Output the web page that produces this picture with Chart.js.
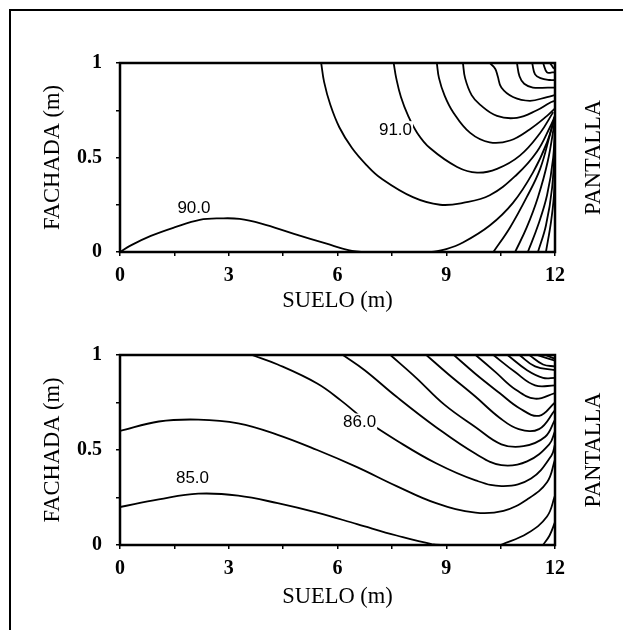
<!DOCTYPE html>
<html>
<head>
<meta charset="utf-8">
<script src="https://cdn.jsdelivr.net/npm/chart.js@4.4.1/dist/chart.umd.min.js"></script>
<style>
  body { margin: 0; background: #fff; }
  #page { position: relative; width: 623px; height: 630px; overflow: hidden; }
  #frame { position: absolute; left: 9px; top: 9px; width: 700px; height: 700px;
           border-left: 2px solid #000; border-top: 2px solid #000; }
  canvas { position: absolute; left: 0; }
</style>
</head>
<body>
<div id="page">
  <div id="frame"></div>
  <canvas id="topChart" width="623" height="315" style="top:0"></canvas>
  <canvas id="bottomChart" width="623" height="315" style="top:315px"></canvas>
</div>
<script>
// axis labels
const xTitle = 'SUELO (m)';
const yTitle = 'FACHADA (m)';
const sideTitle = 'PANTALLA';
const xLabelTicks = [0, 3, 6, 9, 12];
const yLabelTicks = [0, 0.5, 1];

// top plot contours, [suelo, fachada]
const top90a = [[0,0],[0.3,0.035],[0.85,0.085],[1.5,0.13],[2.2,0.17],[2.8,0.178],[3.3,0.175],[3.9,0.15],[4.8,0.096],[5.7,0.044],[6.3,0.01],[6.65,0]];
const top90b = [[8.6,0],[9.0,0.015],[9.46,0.05],[10.2,0.14],[10.84,0.26],[11.39,0.42],[11.78,0.58],[12,0.72]];
const topA = [[5.55,1],[5.63,0.9],[5.8,0.78],[6.05,0.66],[6.4,0.55],[6.8,0.46],[7.2,0.39],[8.08,0.29],[8.83,0.25],[9.46,0.26],[10.2,0.3],[10.95,0.41],[11.5,0.53],[11.86,0.66],[12,0.72]];
const topB = [[7.55,1],[7.62,0.92],[7.75,0.82],[7.95,0.72],[8.2,0.63],[8.55,0.55],[9.3,0.45],[9.85,0.42],[10.4,0.44],[11.03,0.51],[11.59,0.63],[11.95,0.74]];
const topC = [[8.74,1],[8.8,0.92],[8.95,0.83],[9.19,0.74],[9.66,0.63],[10.2,0.58],[10.76,0.59],[11.31,0.65],[11.78,0.72],[12,0.76]];
const topD = [[9.46,1],[9.52,0.92],[9.7,0.83],[9.93,0.78],[10.4,0.72],[10.95,0.71],[11.5,0.75],[11.86,0.79],[12,0.8]];
const topE = [[10.2,1],[10.35,0.97],[10.42,0.93],[10.52,0.87],[10.84,0.82],[11.31,0.8],[11.78,0.82],[12,0.83]];
const topF = [[10.95,1],[11.02,0.93],[11.15,0.89],[11.39,0.87],[11.8,0.87],[12,0.87]];
const topG = [[11.37,1],[11.45,0.94],[11.6,0.92],[11.86,0.91],[12,0.91]];
const topH = [[11.67,1],[11.78,0.95],[11.92,0.95],[12,0.95]];
const topI = [[11.86,1],[11.97,0.97]];
const topJ = [[10.3,0],[10.76,0.13],[11.22,0.29],[11.59,0.44],[11.86,0.62],[12,0.72]];
const topK = [[10.9,0],[11.22,0.13],[11.53,0.29],[11.8,0.48],[12,0.7]];
const topL = [[11.25,0],[11.53,0.14],[11.78,0.3],[11.95,0.5],[12,0.7]];
const topM = [[11.53,0],[11.75,0.14],[11.92,0.34],[12,0.6]];
const topN = [[11.75,0],[11.89,0.16],[11.97,0.3],[12,0.5]];
const topLabelText = ['90.0', '91.0'];
const topLabelX = [2.04, 7.6];
const topLabelY = [0.235, 0.65];

// bottom plot contours
const botC1 = [[0,0.2],[1.07,0.24],[2.16,0.27],[3.26,0.26],[4.35,0.22],[5.44,0.17],[6.54,0.11],[7.63,0.05],[8.6,0.005],[9.0,0]];
const botC1b = [[10.5,0],[11.23,0.06],[11.78,0.15],[12,0.26]];
const botC1c = [[11.67,0],[11.85,0.05],[12,0.12]];
const botC2 = [[0,0.6],[1.07,0.65],[2.16,0.66],[3.26,0.64],[4.35,0.58],[5.44,0.5],[6.54,0.41],[7.63,0.31],[8.72,0.22],[9.81,0.17],[10.58,0.18],[11.23,0.24],[11.78,0.33],[12,0.45]];
const botC3 = [[3.64,1],[4.35,0.95],[5.44,0.85],[6.1,0.76],[6.75,0.66],[7.63,0.55],[8.72,0.43],[9.81,0.34],[10.58,0.31],[11.34,0.35],[11.9,0.47],[12,0.53]];
const botC4 = [[6.15,1],[6.75,0.92],[7.63,0.78],[8.72,0.62],[9.81,0.48],[10.52,0.42],[11.23,0.44],[11.84,0.53],[12,0.6]];
const botC5 = [[7.46,1],[8.17,0.88],[8.94,0.74],[9.81,0.62],[10.52,0.53],[11.13,0.52],[11.73,0.57],[12,0.66]];
const botC6 = [[8.45,1],[9.05,0.9],[9.81,0.78],[10.47,0.67],[11.0,0.61],[11.56,0.61],[12,0.71]];
const botC7 = [[9.21,1],[9.81,0.9],[10.47,0.8],[11.02,0.72],[11.56,0.68],[12,0.75]];
const botC8 = [[9.81,1],[10.36,0.91],[10.9,0.82],[11.45,0.77],[12,0.8]];
const botC9 = [[10.3,1],[10.9,0.91],[11.45,0.84],[12,0.84]];
const botC10 = [[10.69,1],[11.23,0.92],[11.67,0.88],[12,0.88]];
const botC11 = [[11.02,1],[11.45,0.94],[12,0.92]];
const botC12 = [[11.29,1],[11.67,0.95],[12,0.94]];
const botC13 = [[11.5,1],[12,0.97]];
const botC14 = [[11.73,1],[12,0.98]];
const botLabelText = ['85.0', '86.0'];
const botLabelX = [2.0, 6.61];
const botLabelY = [0.355, 0.65];

const serif = '"Liberation Serif", "Times New Roman", serif';

// plot frame, contour labels and the right-hand title
const extrasPlugin = {
  id: 'extras',
  afterDatasetsDraw(chart, args, opts) {
    const { ctx, chartArea: a, scales } = chart;
    ctx.save();
    ctx.strokeStyle = '#000';
    ctx.lineWidth = 2.5;
    ctx.strokeRect(a.left, a.top, a.right - a.left, a.bottom - a.top);

    ctx.font = '17px "Liberation Sans", Arial, sans-serif';
    ctx.textAlign = 'center';
    ctx.textBaseline = 'middle';
    opts.text.forEach((t, i) => {
      const px = scales.x.getPixelForValue(opts.xs[i]);
      const py = scales.y.getPixelForValue(opts.ys[i]);
      const w = ctx.measureText(t).width;
      ctx.fillStyle = '#fff';
      ctx.fillRect(px - w / 2 - 1, py - 8, w + 2, 16);
      ctx.fillStyle = '#000';
      ctx.fillText(t, px, py + 1);
    });

    ctx.translate(594, (a.top + a.bottom) / 2);
    ctx.rotate(-Math.PI / 2);
    ctx.font = '22.5px ' + serif;
    ctx.fillText(sideTitle, 0, 0);
    ctx.restore();
  }
};

function makeChart(id, contours, labels, pad, xHeight, titlePadBottom) {
  return new Chart(document.getElementById(id), {
    type: 'line',
    data: {
      datasets: contours.map(pts => ({
        data: pts.map(p => ({ x: p[0], y: p[1] })),
        borderColor: '#000',
        borderWidth: 1.8,
        pointRadius: 0,
        tension: 0.4,
        fill: false
      }))
    },
    options: {
      responsive: false,
      animation: false,
      devicePixelRatio: 1,
      layout: { padding: pad },
      plugins: {
        legend: { display: false },
        tooltip: { enabled: false },
        extras: labels
      },
      scales: {
        x: {
          type: 'linear',
          min: 0,
          max: 12,
          afterFit: s => { s.height = xHeight; },
          border: { display: false },
          grid: { drawOnChartArea: false, tickLength: 4, color: '#000', lineWidth: 1.5 },
          ticks: {
            stepSize: 1.5,
            autoSkip: false,
            maxRotation: 0,
            padding: 8,
            color: '#000',
            font: { family: serif, size: 20, weight: 'bold' },
            callback: v => xLabelTicks.includes(v) ? String(v) : ''
          },
          title: {
            display: true,
            text: xTitle,
            color: '#000',
            font: { family: serif, size: 22.5 },
            padding: { top: 0, bottom: titlePadBottom }
          }
        },
        y: {
          type: 'linear',
          min: 0,
          max: 1,
          afterFit: s => { s.width = 120; },
          border: { display: false },
          grid: { drawOnChartArea: false, tickLength: 4, color: '#000', lineWidth: 1.5 },
          ticks: {
            stepSize: 0.25,
            autoSkip: false,
            padding: 14,
            color: '#000',
            font: { family: serif, size: 20, weight: 'bold' },
            callback: v => yLabelTicks.includes(v) ? String(v) : ''
          },
          title: {
            display: true,
            text: yTitle,
            color: '#000',
            font: { family: serif, size: 22.5 },
            padding: { top: 40, bottom: 4 }
          }
        }
      }
    },
    plugins: [extrasPlugin]
  });
}

makeChart('topChart',
  [top90a, top90b, topA, topB, topC, topD, topE, topF, topG, topH, topI, topJ, topK, topL, topM, topN],
  { text: topLabelText, xs: topLabelX, ys: topLabelY },
  { top: 63, right: 68, bottom: 0, left: 0 }, 63, 0);

makeChart('bottomChart',
  [botC1, botC1b, botC1c, botC2, botC3, botC4, botC5, botC6, botC7, botC8, botC9, botC10, botC11, botC12, botC13, botC14],
  { text: botLabelText, xs: botLabelX, ys: botLabelY },
  { top: 40, right: 68, bottom: 18, left: 0 }, 67, 1.5);
</script>
</body>
</html>
